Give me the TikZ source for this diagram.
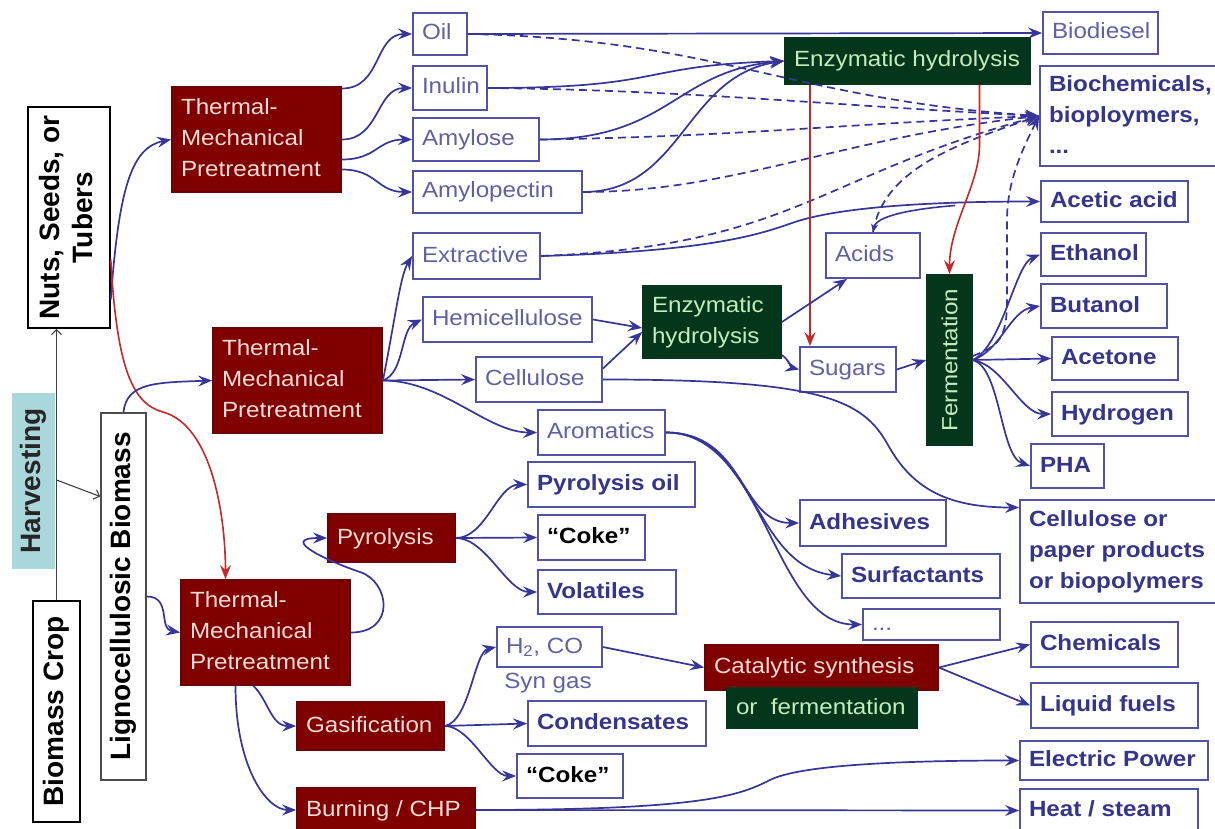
\documentclass[tikz,border=0pt]{standalone}
\usepackage{graphicx}
\usepackage{fontspec}
\setmainfont{Liberation Sans}[FakeStretch=1.1]
\newfontfamily\rotfont{Liberation Sans}
\usetikzlibrary{arrows.meta,calc}
\definecolor{bxc}{HTML}{5252A8}
\definecolor{ltc}{HTML}{6060A4}
\definecolor{bdc}{HTML}{35358C}
\definecolor{arc}{HTML}{35359A}
\definecolor{dred}{HTML}{800000}
\definecolor{dgrn}{HTML}{03361A}
\definecolor{gtxt}{HTML}{C4ECBC}
\definecolor{rtxt}{HTML}{F8DCD8}
\definecolor{redc}{HTML}{C62828}
\definecolor{tealc}{HTML}{A9D7DB}
\tikzset{
  base/.style={draw=bxc, line width=1.8pt, inner xsep=9pt, inner ysep=0pt, font=\fontsize{22}{31}\selectfont},
  sl/.style={text height=14pt, text depth=2pt},
  lt/.style={base, sl, text=ltc},
  bd/.style={base, sl, text=bdc, font=\fontsize{22}{31}\selectfont\bfseries},
  bdm/.style={base, text=bdc, font=\fontsize{22}{31}\selectfont\bfseries},
  ck/.style={bd, text=black},
  rb/.style={base, sl, fill=dred, draw=dred!85!black, text=rtxt},
  rbm/.style={base, fill=dred, draw=dred!85!black, text=rtxt},
  gb/.style={base, sl, fill=dgrn, draw=dgrn, text=gtxt},
  gbm/.style={base, fill=dgrn, draw=dgrn, text=gtxt},
  rot/.style={inner sep=0pt, font=\rotfont\fontsize{28}{33}\selectfont\bfseries},
  arr/.style={draw=arc, line width=1.7pt, -{Stealth[length=14pt,width=11pt,inset=5pt]}},
  sarr/.style={draw=arc, line width=1.6pt, -{Stealth[length=8pt,width=7pt,inset=2.5pt]}},
  dsh/.style={arr, dash pattern=on 8pt off 5pt},
  rarr/.style={draw=redc, line width=1.6pt, -{Stealth[length=14pt,width=11pt,inset=5pt]}},
  garr/.style={draw=black!75, line width=1.1pt, -{Straight Barb[length=5pt,width=10pt]}},
  lbl/.style={text=ltc, font=\fontsize{22}{31}\selectfont, inner sep=0pt}
}
\newcommand{\bx}[7]{%
  \pgfmathsetmacro{\bxw}{#5-#3}%
  \pgfmathsetmacro{\bxh}{#6-#4}%
  \pgfmathsetmacro{\bxt}{#5-#3-18}%
  \node[#1, minimum width=\bxw pt, minimum height=\bxh pt] (#2) at ({(#3+#5)/2},{(#4+#6)/2}) {\makebox[\bxt pt][l]{#7}};}
\newcommand{\ml}[1]{\begin{tabular}{@{}l@{}}#1\end{tabular}}
\begin{document}
\begin{tikzpicture}[x=1pt,y=-1pt]
\useasboundingbox (0,0) rectangle (1215,829);
\fill[white] (0,0) rectangle (1215,829);

% ---- left column
\node[rot, fill=tealc, text=black!85, minimum width=43pt, minimum height=176pt] (harv) at (33.5,481) {\rotatebox{90}{Harvesting}};
\node[rot, draw=black, line width=1.6pt, fill=white, minimum width=47pt, minimum height=221pt] (crop) at (56.5,711.5) {\rotatebox{90}{Biomass Crop}};
\node[rot, draw=black, line width=1.6pt, fill=white, minimum width=82pt, minimum height=221pt] (nuts) at (69,217.5) {\rotatebox{90}{\begin{tabular}{@{}c@{}}Nuts, Seeds, or\\Tubers\end{tabular}}};
\node[rot, draw=black!70, line width=1.6pt, fill=white, minimum width=45pt, minimum height=367pt] (ligno) at (123.5,596.5) {\rotatebox{90}{Lignocellulosic Biomass}};

% ---- red process boxes
\bx{rbm}{tmp1}{172}{87}{341}{192}{\ml{Thermal-\\Mechanical\\Pretreatment}}
\bx{rbm}{tmp2}{213}{328}{382}{433}{\ml{Thermal-\\Mechanical\\Pretreatment}}
\bx{rbm}{tmp3}{181}{580}{350}{685}{\ml{Thermal-\\Mechanical\\Pretreatment}}
\bx{rb}{pyro}{328}{514}{455}{562}{Pyrolysis}
\bx{rb}{gasi}{297}{702}{444}{750}{Gasification}
\bx{rb}{burn}{297}{788}{475}{832}{Burning / CHP}
\bx{rb}{cat}{705}{645}{938}{690}{Catalytic synthesis}
\bx{gb}{orf}{727}{688}{917}{728}{or~ fermentation}

% ---- green boxes
\bx{gb}{enz1}{785}{38}{1030}{84}{Enzymatic hydrolysis}
\bx{gbm}{enz2}{643}{286}{781}{358}{\ml{Enzymatic\\hydrolysis}}
\node[base, fill=dgrn, draw=dgrn, text=gtxt, inner sep=0pt, minimum width=45pt, minimum height=170pt] (ferm) at (949.5,360) {\rotatebox{90}{Fermentation}};

% ---- intermediates
\bx{lt}{oil}{413}{13}{467}{55}{Oil}
\bx{lt}{inulin}{413}{66}{487}{110}{Inulin}
\bx{lt}{amylose}{413}{118}{539}{161}{Amylose}
\bx{lt}{amylop}{413}{171}{582}{213}{Amylopectin}
\bx{lt}{extr}{413}{233}{540}{279}{Extractive}
\bx{lt}{hemi}{423}{297}{592}{342}{Hemicellulose}
\bx{lt}{cell}{476}{357}{602}{402}{Cellulose}
\bx{lt}{arom}{538}{410}{665}{455}{Aromatics}
\bx{lt}{acids}{826}{233}{920}{278}{Acids}
\bx{lt}{sugars}{800}{347}{896}{392}{Sugars}
\bx{lt}{h2co}{497}{627}{602}{667}{H\textsubscript{2}, CO}
\node[lbl] (syn) at (548,683) {Syn gas};

% ---- products
\bx{lt}{biod}{1043}{12}{1158}{54}{Biodiesel}
\bx{bdm}{bioch}{1040}{66}{1218}{166}{\ml{Biochemicals,\\bioploymers,\\...}}
\bx{bd}{acet}{1041}{181}{1188}{222}{Acetic acid}
\bx{bd}{eth}{1041}{233}{1146}{276}{Ethanol}
\bx{bd}{but}{1041}{284}{1167}{328}{Butanol}
\bx{bd}{acetone}{1052}{337}{1178}{380}{Acetone}
\bx{bd}{hyd}{1052}{392}{1188}{436}{Hydrogen}
\bx{bd}{pha}{1031}{444}{1104}{488}{PHA}
\bx{bdm}{cell2}{1020}{500}{1218}{603}{\ml{Cellulose or\\paper products\\or biopolymers}}
\bx{bd}{adh}{800}{500}{946}{546}{Adhesives}
\bx{bd}{surf}{842}{554}{1000}{598}{Surfactants}
\bx{lt}{dots}{863}{609}{1000}{640}{...}
\bx{bd}{chem}{1031}{622}{1178}{667}{Chemicals}
\bx{bd}{liq}{1031}{683}{1198}{728}{Liquid fuels}
\bx{bd}{elec}{1020}{741}{1208}{780}{Electric Power}
\bx{bd}{heat}{1020}{789}{1198}{832}{Heat / steam}
\bx{bd}{pyoil}{528}{462}{695}{507}{Pyrolysis oil}
\bx{ck}{coke1}{538}{515}{645}{560}{``Coke''}
\bx{bd}{vol}{538}{570}{676}{614}{Volatiles}
\bx{bd}{cond}{528}{701}{706}{746}{Condensates}
\bx{ck}{coke2}{517}{754}{623}{798}{``Coke''}

% ---- harvesting arrows
\draw[garr] (crop.north) -- (crop.north |- nuts.south);
\coordinate (hb) at ($(crop.north)!0.443!(crop.north |- nuts.south)$);
\draw[garr] (hb) -- ([yshift=100pt]ligno.west);

% ---- feedstock to pretreatment
\draw[arr] ([yshift=-82pt]nuts.east) .. controls +(8,-110) and +(-40,8) .. (tmp1.west);
\draw[rarr] ([yshift=-42pt]nuts.east) .. controls +(6,110) and +(-30,-8) .. (163,412) .. controls +(50,14) and +(0,-60) .. ([xshift=-40pt]tmp3.north);
\draw[arr] (ligno.north) .. controls +(3,-30) and +(-55,2) .. (tmp2.west);
\draw[arr] (ligno.east) .. controls +(25,0) and +(-22,-4) .. (tmp3.west);

% ---- TMP1 outputs
\draw[arr] ([yshift=51pt]tmp1.east) .. controls +(40,0) and +(-38,0) .. (oil.west);
\draw[arr] (tmp1.east) .. controls +(38,0) and +(-36,0) .. (inulin.west);
\draw[arr] ([yshift=-20pt]tmp1.east) .. controls +(35,0) and +(-35,0) .. (amylose.west);
\draw[arr] ([yshift=-30pt]tmp1.east) .. controls +(35,0) and +(-35,0) .. (amylop.west);

% ---- TMP2 outputs
\draw[arr] (tmp2.east) .. controls +(12,-60) and +(-12,20) .. (extr.west);
\draw[arr] (tmp2.east) .. controls +(22,-8) and +(-22,10) .. (hemi.west);
\draw[arr] (tmp2.east) -- (cell.west);
\draw[arr] (tmp2.east) .. controls +(60,0) and +(-50,0) .. (arom.west);

% ---- Oil and starch routes
\draw[arr] (oil.east) -- (biod.west);
\draw[dsh] (oil.east) .. controls +(250,5) and +(-250,-17) .. (bioch.west);
\draw[dsh] (inulin.east) .. controls +(200,2) and +(-200,-10) .. (bioch.west);
\draw[dsh] (amylose.east) .. controls +(200,-3) and +(-200,8) .. (bioch.west);
\draw[dsh] (amylop.east) .. controls +(150,0) and +(-200,22) .. (bioch.west);
\draw[dsh] (extr.east) .. controls +(250,-10) and +(-220,60) .. (bioch.west);
\draw[dsh] (acids.north) .. controls +(10,-60) and +(-90,30) .. (bioch.west);
\draw[dsh] ([yshift=4pt]ferm.east) .. controls +(25,-10) and +(0,40) .. (1007,300) -- (1007,220) .. controls +(0,-40) and +(-15,30) .. (bioch.west);
\draw[arr] (inulin.east) .. controls +(180,0) and +(-150,5) .. (enz1.west);
\draw[arr] (amylose.east) .. controls +(130,0) and +(-110,10) .. (enz1.west);
\draw[arr] (amylop.east) .. controls +(100,0) and +(-100,15) .. (enz1.west);
\draw[arr] (extr.east) .. controls +(180,-5) and +(-30,10) .. (795,222) .. controls +(30,-10) and +(-150,0) .. (acet.west);
\draw[sarr] ([xshift=-85pt,yshift=-4pt]acet.west) .. controls +(-50,4) and +(3,-15) .. (acids.north);

% ---- red enzyme arrows
\draw[rarr] ([xshift=-38pt]sugars.north |- enz1.south) -- ([xshift=-38pt]sugars.north);
\draw[rarr] ([xshift=72pt]enz1.south) -- ++(0,60) .. controls +(0,40) and +(0,-50) .. (ferm.north);

% ---- lignocellulose routes
\draw[arr] (hemi.east) -- ([yshift=-6pt]enz2.west);
\draw[arr] ([yshift=11pt]cell.east) -- ([yshift=-10pt]enz2.west);
\draw[arr] (enz2.east) -- ([xshift=-26pt]acids.south);
\draw[arr] ([yshift=-33pt]enz2.east) .. controls +(8,6) and +(-8,-2) .. (sugars.west);
\draw[arr] (sugars.east) -- (ferm.west);
\draw[arr] (cell.east) .. controls +(220,0) and +(-25,-45) .. (888,445) .. controls +(25,45) and +(-70,0) .. ([yshift=44pt]cell2.west);
\draw[arr] (arom.east) .. controls +(80,0) and +(-60,0) .. (adh.west);
\draw[arr] (arom.east) .. controls +(90,0) and +(-90,-10) .. (surf.west);
\draw[arr] (arom.east) .. controls +(100,0) and +(-90,0) .. (dots.west);

% ---- fermentation products
\draw[arr] (ferm.east) .. controls +(30,-15) and +(-25,10) .. (eth.west);
\draw[arr] (ferm.east) .. controls +(28,-10) and +(-30,5) .. (but.west);
\draw[arr] (ferm.east) -- (acetone.west);
\draw[arr] (ferm.east) .. controls +(30,5) and +(-30,0) .. (hyd.west);
\draw[arr] (ferm.east) .. controls +(28,8) and +(-30,-10) .. (pha.west);

% ---- thermochemical routes
\draw[arr] (tmp3.east) .. controls +(45,0) and +(30,10) .. (360,572) .. controls +(-30,-10) and +(-50,0) .. (pyro.west);
\draw[arr] (pyro.east) .. controls +(30,0) and +(-30,0) .. (pyoil.west);
\draw[arr] (pyro.east) -- (coke1.west);
\draw[arr] (pyro.east) .. controls +(30,0) and +(-30,0) .. (vol.west);
\draw[arr] ([xshift=-12pt]tmp3.south) .. controls +(15,15) and +(-25,0) .. (gasi.west);
\draw[arr] ([xshift=-30pt]tmp3.south) .. controls +(0,80) and +(-30,0) .. (burn.west);
\draw[arr] (gasi.east) .. controls +(25,-5) and +(-22,5) .. (h2co.west);
\draw[arr] (gasi.east) -- (cond.west);
\draw[arr] (gasi.east) .. controls +(25,0) and +(-25,0) .. (coke2.west);
\draw[arr] (h2co.east) -- (cat.west);
\draw[arr] (cat.east) -- (chem.west);
\draw[arr] (cat.east) -- (liq.west);
\draw[arr] (burn.east) -- (heat.west);
\draw[arr] (burn.east) .. controls +(230,0) and +(-30,15) .. (770,780) .. controls +(30,-15) and +(-120,0) .. (elec.west);
\end{tikzpicture}
\end{document}
